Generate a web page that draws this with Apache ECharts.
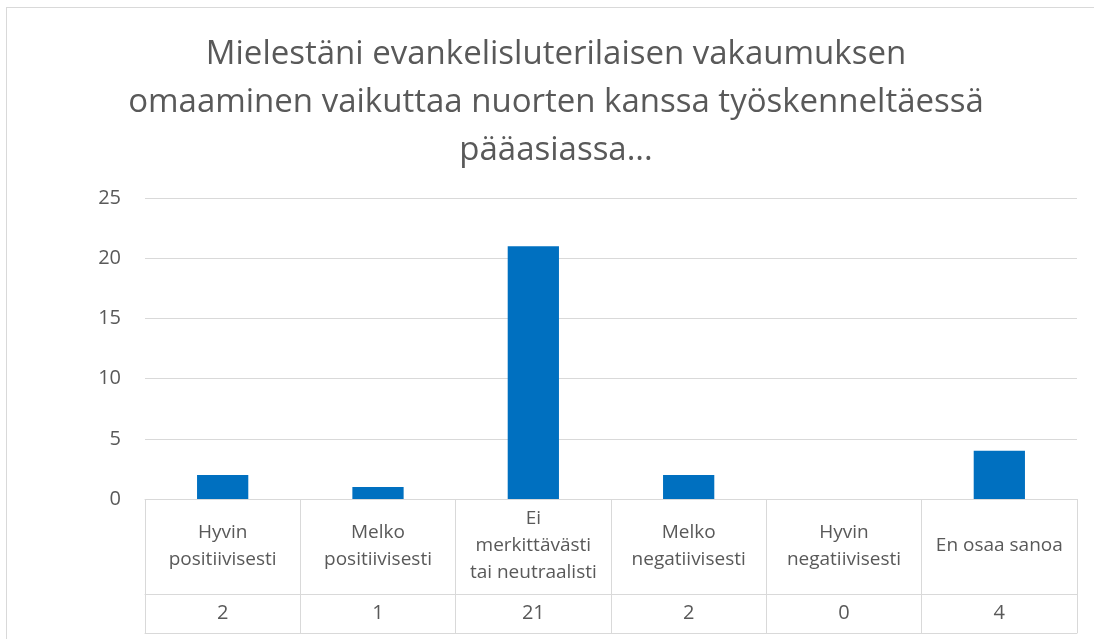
<!DOCTYPE html>
<html>
<head>
<meta charset="utf-8">
<script src="https://cdn.jsdelivr.net/npm/echarts@6/dist/echarts.min.js"></script>
<style>
  html, body { margin: 0; padding: 0; background: #fff; }
  #frame { position: absolute; left: 6px; top: 7px; right: -2px; bottom: -2px; border: 1px solid #d9d9d9; }
  #chart { position: absolute; left: 0; top: 0; width: 1094px; height: 639px; }
</style>
</head>
<body>
<div id="frame"></div>
<div id="chart"></div>
<script>
var titleText = 'Mielestäni evankelisluterilaisen vakaumuksen\nomaaminen vaikuttaa nuorten kanssa työskenneltäessä\npääasiassa...';
var categories = ['Hyvin\npositiivisesti', 'Melko\npositiivisesti', 'Ei\nmerkittävästi\ntai neutraalisti', 'Melko\nnegatiivisesti', 'Hyvin\nnegatiivisesti', 'En osaa sanoa'];
var counts = [2, 1, 21, 2, 0, 4];
var yTicks = { min: 0, max: 25, interval: 5 };

var textColor = '#595959';
var lineColor = '#d9d9d9';
var font = '"Open Sans", "Noto Sans", sans-serif';

var myChart = echarts.init(document.getElementById('chart'));
var option = {
  animation: false,
  title: {
    text: titleText,
    left: 551,
    textAlign: 'center',
    top: 26,
    textStyle: {
      color: textColor,
      fontFamily: font,
      fontWeight: 'normal',
      fontSize: 33,
      lineHeight: 48
    }
  },
  grid: { left: 145, right: 17, top: 198, bottom: 140 },
  xAxis: [{
    type: 'category',
    data: categories,
    axisLine: { lineStyle: { color: lineColor, width: 1 } },
    axisTick: { show: true, interval: 0, length: 134, lineStyle: { color: lineColor } },
    axisLabel: {
      interval: 0,
      color: textColor,
      fontFamily: font,
      fontSize: 19,
      lineHeight: 27,
      verticalAlign: 'middle',
      margin: 47
    }
  }, {
    type: 'category',
    data: categories,
    position: 'bottom',
    offset: 95,
    axisLine: { lineStyle: { color: lineColor, width: 1 } },
    axisTick: { show: false },
    axisLabel: {
      interval: 0,
      color: textColor,
      fontFamily: font,
      fontSize: 20,
      verticalAlign: 'middle',
      margin: 19,
      formatter: function (v, i) { return String(counts[i]); }
    }
  }, {
    type: 'category',
    data: categories,
    position: 'bottom',
    offset: 134,
    axisLine: { lineStyle: { color: lineColor, width: 1 } },
    axisTick: { show: false },
    axisLabel: { show: false }
  }],
  yAxis: {
    type: 'value',
    min: yTicks.min,
    max: yTicks.max,
    interval: yTicks.interval,
    axisLine: { show: false },
    axisTick: { show: false },
    splitLine: { lineStyle: { color: lineColor, width: 1 } },
    axisLabel: { color: textColor, fontFamily: font, fontSize: 20, margin: 24 }
  },
  series: [{
    type: 'bar',
    xAxisIndex: 0,
    data: counts,
    barWidth: '33%',
    itemStyle: { color: '#0070c0' }
  }]
};
myChart.setOption(option);
window.addEventListener('resize', function () { myChart.resize(); });
</script>
</body>
</html>
